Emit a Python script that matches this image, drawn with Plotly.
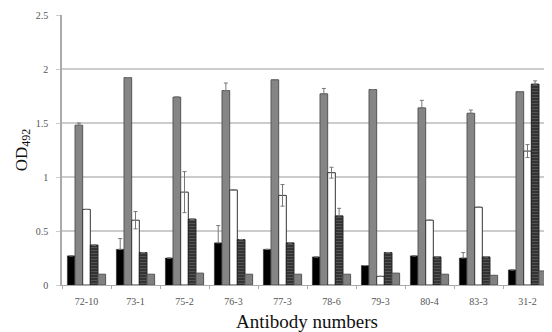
import plotly.graph_objects as go

categories = ["72-10", "73-1", "75-2", "76-3", "77-3", "78-6", "79-3", "80-4", "83-3", "31-2"]
s1 = [0.27, 0.33, 0.25, 0.39, 0.33, 0.26, 0.18, 0.27, 0.25, 0.14]
s1_err = [0.0, 0.10, 0.0, 0.16, 0.0, 0.0, 0.0, 0.0, 0.05, 0.0]
s2 = [1.48, 1.92, 1.74, 1.80, 1.90, 1.77, 1.81, 1.64, 1.59, 1.79]
s2_err = [0.02, 0.0, 0.0, 0.07, 0.0, 0.05, 0.0, 0.07, 0.03, 0.0]
s3 = [0.70, 0.60, 0.86, 0.88, 0.83, 1.04, 0.08, 0.60, 0.72, 1.24]
s3_err = [0.0, 0.08, 0.19, 0.0, 0.10, 0.05, 0.0, 0.0, 0.0, 0.06]
s4 = [0.37, 0.30, 0.61, 0.42, 0.39, 0.64, 0.30, 0.26, 0.26, 1.86]
s4_err = [0.0, 0.0, 0.0, 0.0, 0.0, 0.07, 0.0, 0.0, 0.0, 0.03]
s5 = [0.10, 0.10, 0.11, 0.10, 0.10, 0.10, 0.11, 0.10, 0.09, 0.13]

zeros = [0.0] * len(categories)
err_style = dict(type="data", visible=True, color="#777777", thickness=1, width=2)

fig = go.Figure()
fig.add_trace(go.Bar(x=categories, y=s1, marker=dict(color="#000000", line=dict(color="#222", width=0.5)),
                     error_y=dict(array=s1_err, arrayminus=zeros, symmetric=False, **err_style)))
fig.add_trace(go.Bar(x=categories, y=s2, marker=dict(color="#858585", line=dict(color="#555", width=1)),
                     error_y=dict(array=s2_err, arrayminus=zeros, symmetric=False, **err_style)))
fig.add_trace(go.Bar(x=categories, y=s3, marker=dict(color="#ffffff", line=dict(color="#333", width=1)),
                     error_y=dict(array=s3_err, **err_style)))
fig.add_trace(go.Bar(x=categories, y=s4, marker=dict(color="#333333", line=dict(color="#222", width=1),
                     pattern=dict(shape="-", fgcolor="#8a8a8a", bgcolor="#333333", size=3, solidity=0.25)),
                     error_y=dict(array=s4_err, arrayminus=zeros, symmetric=False, **err_style)))
fig.add_trace(go.Bar(x=categories, y=s5, marker=dict(color="#808080", line=dict(color="#555", width=1))))

# the page body has an 8px margin, so the figure is 8px smaller than the window
fig.update_layout(
    width=544, height=324,
    margin=dict(l=54, r=0, t=7, b=47, autoexpand=False),
    barmode="group", bargap=0.22, bargroupgap=0,
    showlegend=False,
    plot_bgcolor="white", paper_bgcolor="white",
    font=dict(family="Liberation Serif", color="#555555", size=10),
)
fig.update_xaxes(
    type="category", automargin=False,
    tickson="boundaries", ticks="outside", ticklen=3, tickcolor="#aaaaaa",
    showline=True, linecolor="#aaaaaa", linewidth=1,
    tickfont=dict(size=10, color="#555555"),
    ticklabelstandoff=7,
    title=dict(text="Antibody numbers", font=dict(size=19, color="#111111"), standoff=20),
)
fig.update_yaxes(
    range=[0, 2.5], dtick=0.5, automargin=False,
    showgrid=True, gridcolor="#cccccc", gridwidth=2,
    ticks="outside", ticklen=4, tickcolor="#cccccc",
    showline=True, linecolor="#aaaaaa", linewidth=1.5,
    tickfont=dict(size=10, color="#555555"),
    ticklabelstandoff=6,
    zeroline=False,
    title=dict(text="OD<sub>492</sub>", font=dict(size=17, color="#111111"), standoff=4),
)

fig.write_html("out.html")
